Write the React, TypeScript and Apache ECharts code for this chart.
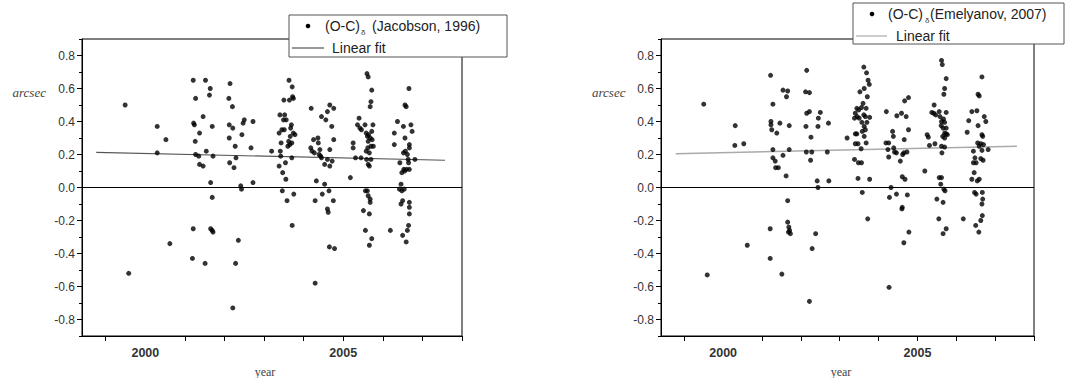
import React, { useEffect, useRef } from "react";
import * as echarts from "echarts";

// (O-C)δ vs Jacobson (1996): [year, arcsec]
const jacobsonPoints: [number, number][] = [
  [1999.49, 0.5], [1999.58, -0.52], [2000.3, 0.37], [2000.3, 0.21], [2000.52, 0.29], [2000.62, -0.34],
  [2001.21, 0.65], [2001.52, 0.65], [2001.27, 0.54], [2001.64, 0.6], [2001.62, 0.56], [2001.46, 0.43],
  [2001.22, 0.39], [2001.24, 0.38], [2001.69, 0.37], [2001.37, 0.33], [2001.26, 0.28], [2001.27, 0.2],
  [2001.35, 0.19], [2001.54, 0.22], [2001.71, 0.19], [2001.37, 0.14], [2001.46, 0.13], [2001.65, 0.03],
  [2001.69, -0.06], [2001.21, -0.25], [2001.65, -0.25], [2001.69, -0.26], [2001.71, -0.27], [2001.19, -0.43],
  [2001.51, -0.46],
  [2002.14, 0.63], [2002.11, 0.54], [2002.2, 0.49], [2002.12, 0.38], [2002.21, 0.36], [2002.47, 0.39],
  [2002.5, 0.41], [2002.72, 0.4], [2002.44, 0.32], [2002.12, 0.3], [2002.27, 0.25], [2002.67, 0.24],
  [2002.29, 0.18], [2002.13, 0.15], [2002.24, 0.12], [2002.72, 0.03], [2002.41, 0.01], [2002.43, -0.01],
  [2002.35, -0.32], [2002.28, -0.46], [2002.21, -0.73],
  [2003.19, 0.22], [2003.63, 0.65], [2003.71, 0.61], [2003.5, 0.53], [2003.64, 0.53], [2003.72, 0.55],
  [2003.74, 0.54], [2003.4, 0.44], [2003.52, 0.44], [2003.49, 0.41], [2003.56, 0.41], [2003.69, 0.38],
  [2003.67, 0.36], [2003.38, 0.33], [2003.45, 0.35], [2003.51, 0.35], [2003.74, 0.33], [2003.78, 0.32],
  [2003.66, 0.31], [2003.43, 0.27], [2003.62, 0.28], [2003.65, 0.26], [2003.6, 0.25], [2003.7, 0.27],
  [2003.41, 0.22], [2003.42, 0.19], [2003.7, 0.18], [2003.38, 0.13], [2003.54, 0.15], [2003.47, 0.09],
  [2003.55, 0.05], [2003.46, -0.02], [2003.58, -0.08], [2003.75, -0.04], [2003.71, -0.23],
  [2004.19, 0.48], [2004.66, 0.5], [2004.76, 0.48], [2004.6, 0.46], [2004.56, 0.41], [2004.45, 0.43],
  [2004.71, 0.37], [2004.25, 0.29], [2004.36, 0.3], [2004.76, 0.29], [2004.37, 0.27], [2004.18, 0.24],
  [2004.41, 0.23], [2004.66, 0.23], [2004.21, 0.22], [2004.27, 0.21], [2004.39, 0.2], [2004.45, 0.18],
  [2004.43, 0.19], [2004.6, 0.17], [2004.72, 0.16], [2004.53, 0.14], [2004.66, 0.13], [2004.32, 0.04],
  [2004.53, 0.02], [2004.64, -0.02], [2004.47, -0.04], [2004.29, -0.08], [2004.75, -0.08], [2004.6, -0.13],
  [2004.62, -0.15], [2004.65, -0.36], [2004.78, -0.37], [2004.29, -0.58],
  [2005.18, 0.06], [2005.25, 0.27], [2005.25, 0.24], [2005.31, 0.18], [2005.45, 0.18], [2005.4, 0.42],
  [2005.36, 0.38], [2005.42, 0.36], [2005.46, 0.35], [2005.55, 0.38], [2005.6, 0.69], [2005.63, 0.67],
  [2005.72, 0.59], [2005.7, 0.52], [2005.68, 0.49], [2005.75, 0.38], [2005.58, 0.33], [2005.64, 0.32],
  [2005.72, 0.34], [2005.61, 0.31], [2005.68, 0.3], [2005.73, 0.29], [2005.63, 0.28], [2005.7, 0.25],
  [2005.76, 0.25], [2005.62, 0.24], [2005.58, 0.22], [2005.66, 0.21], [2005.59, 0.17], [2005.7, 0.17],
  [2005.63, 0.14], [2005.66, 0.13], [2005.56, -0.02], [2005.61, -0.02], [2005.63, -0.05], [2005.68, -0.07],
  [2005.68, -0.09], [2005.51, -0.14], [2005.66, -0.16], [2005.56, -0.26], [2005.72, -0.31], [2005.66, -0.35],
  [2006.19, -0.26], [2006.29, 0.33], [2006.29, 0.26], [2006.37, 0.4], [2006.43, 0.15], [2006.46, 0.02],
  [2006.42, -0.01], [2006.48, -0.02], [2006.54, -0.01], [2006.46, -0.1], [2006.5, -0.08], [2006.52, 0.37],
  [2006.56, 0.5], [2006.59, 0.49], [2006.56, 0.3], [2006.66, 0.6], [2006.71, 0.38], [2006.74, 0.34],
  [2006.52, 0.21], [2006.57, 0.22], [2006.62, 0.2], [2006.67, 0.26], [2006.67, 0.24], [2006.64, 0.17],
  [2006.65, 0.15], [2006.53, 0.11], [2006.6, 0.11], [2006.67, 0.11], [2006.48, 0.09], [2006.55, 0.1],
  [2006.81, 0.17], [2006.67, -0.09], [2006.67, -0.12], [2006.67, -0.16], [2006.65, -0.23], [2006.62, -0.26],
  [2006.5, -0.29], [2006.59, -0.33],
];

// (O-C)δ vs Emelyanov (2007): [year, arcsec]
const emelyanovPoints: [number, number][] = [
  [1999.5, 0.505], [1999.59, -0.53], [2000.31, 0.375], [2000.3, 0.255], [2000.53, 0.265], [2000.62, -0.35],
  [2001.22, 0.68], [2001.28, 0.505], [2001.23, 0.4], [2001.23, 0.38], [2001.25, 0.35], [2001.38, 0.33],
  [2001.46, 0.39], [2001.54, 0.59], [2001.66, 0.585], [2001.63, 0.55], [2001.7, 0.375], [2001.28, 0.23],
  [2001.7, 0.23], [2001.28, 0.18], [2001.34, 0.16], [2001.54, 0.195], [2001.35, 0.12], [2001.42, 0.12],
  [2001.62, 0.07], [2001.66, -0.08], [2001.21, -0.25], [2001.66, -0.21], [2001.69, -0.24], [2001.71, -0.26],
  [2001.68, -0.27], [2001.73, -0.28], [2001.21, -0.43], [2001.51, -0.525],
  [2002.15, 0.71], [2002.12, 0.58], [2002.22, 0.575], [2002.15, 0.45], [2002.22, 0.46], [2002.13, 0.37],
  [2002.26, 0.305], [2002.14, 0.215], [2002.28, 0.215], [2002.25, 0.165], [2002.5, 0.455], [2002.45, 0.42],
  [2002.44, 0.37], [2002.71, 0.39], [2002.68, 0.215], [2002.42, 0.04], [2002.44, 0.0], [2002.72, 0.04],
  [2002.38, -0.28], [2002.29, -0.37], [2002.22, -0.69],
  [2003.19, 0.3], [2003.38, 0.17], [2003.47, 0.055], [2003.48, 0.15], [2003.56, 0.15], [2003.58, -0.03],
  [2003.72, -0.19], [2003.77, 0.05], [2003.62, 0.73], [2003.69, 0.695], [2003.73, 0.65], [2003.76, 0.625],
  [2003.63, 0.6], [2003.52, 0.58], [2003.71, 0.55], [2003.6, 0.51], [2003.56, 0.485], [2003.44, 0.48],
  [2003.49, 0.47], [2003.68, 0.48], [2003.4, 0.45], [2003.45, 0.43], [2003.62, 0.44], [2003.38, 0.42],
  [2003.5, 0.42], [2003.66, 0.43], [2003.77, 0.425], [2003.57, 0.395], [2003.7, 0.395], [2003.63, 0.37],
  [2003.66, 0.35], [2003.58, 0.34], [2003.4, 0.325], [2003.44, 0.325], [2003.63, 0.31], [2003.68, 0.27],
  [2003.4, 0.265], [2003.47, 0.265], [2003.55, 0.235],
  [2004.2, 0.46], [2004.19, 0.27], [2004.26, 0.27], [2004.24, 0.23], [2004.26, 0.185], [2004.32, 0.0],
  [2004.28, -0.06], [2004.27, -0.605], [2004.36, 0.34], [2004.38, 0.31], [2004.39, 0.24], [2004.41, 0.215],
  [2004.46, 0.21], [2004.47, 0.435], [2004.59, 0.45], [2004.71, 0.43], [2004.67, 0.525], [2004.77, 0.545],
  [2004.77, 0.35], [2004.66, 0.29], [2004.73, 0.215], [2004.65, 0.21], [2004.62, 0.2], [2004.56, 0.16],
  [2004.61, 0.065], [2004.68, 0.05], [2004.46, -0.04], [2004.61, -0.12], [2004.6, -0.13], [2004.74, -0.045],
  [2004.78, -0.27], [2004.65, -0.335],
  [2005.19, 0.1], [2005.25, 0.32], [2005.28, 0.305], [2005.31, 0.255], [2005.45, 0.265], [2005.43, 0.5],
  [2005.42, 0.45], [2005.47, 0.44], [2005.37, 0.455], [2005.56, 0.46], [2005.62, 0.77], [2005.64, 0.745],
  [2005.74, 0.66], [2005.7, 0.6], [2005.68, 0.565], [2005.74, 0.455], [2005.58, 0.43], [2005.67, 0.415],
  [2005.62, 0.4], [2005.7, 0.395], [2005.61, 0.375], [2005.66, 0.36], [2005.74, 0.36], [2005.7, 0.33],
  [2005.74, 0.325], [2005.77, 0.32], [2005.65, 0.31], [2005.7, 0.3], [2005.62, 0.25], [2005.7, 0.245],
  [2005.63, 0.21], [2005.56, 0.06], [2005.62, 0.06], [2005.6, 0.02], [2005.68, -0.01], [2005.71, -0.02],
  [2005.5, -0.07], [2005.66, -0.09], [2005.55, -0.19], [2005.74, -0.25], [2005.66, -0.28],
  [2006.18, -0.19], [2006.28, 0.335], [2006.32, 0.405], [2006.4, 0.46], [2006.44, 0.22], [2006.44, 0.15],
  [2006.46, 0.09], [2006.4, 0.05], [2006.47, -0.03], [2006.51, -0.04], [2006.48, 0.18], [2006.51, 0.15],
  [2006.53, 0.465], [2006.56, 0.565], [2006.59, 0.555], [2006.56, 0.375], [2006.55, 0.27], [2006.59, 0.25],
  [2006.54, 0.04], [2006.59, 0.05], [2006.66, 0.67], [2006.66, 0.32], [2006.68, 0.31], [2006.63, 0.265],
  [2006.7, 0.26], [2006.66, 0.225], [2006.72, 0.43], [2006.76, 0.4], [2006.63, 0.175], [2006.69, 0.165],
  [2006.82, 0.23], [2006.67, -0.03], [2006.68, -0.07], [2006.66, -0.1], [2006.67, -0.17], [2006.63, -0.2],
  [2006.5, -0.23], [2006.58, -0.27],
];

const jacobsonFit: [number, number][] = [[1998.76, 0.213], [2007.57, 0.165]];
const emelyanovFit: [number, number][] = [[1998.78, 0.205], [2007.56, 0.25]];

const yearLabels = [2000, 2005];
const yearTicks = [1999, 2001, 2002, 2003, 2004, 2005, 2006, 2007, 2008];
const yMajor = [-0.8, -0.6, -0.4, -0.2, 0, 0.2, 0.4, 0.6, 0.8];

const SANS = '"Liberation Sans", Arial, sans-serif';
const SERIF = '"Liberation Serif", "Times New Roman", serif';

function xAxisFor(gridIndex: number) {
  return {
    type: "value",
    gridIndex,
    min: 1998.4,
    max: 2008,
    axisLine: { show: true, onZero: false, lineStyle: { color: "#000", width: 1 } },
    axisTick: { show: true, inside: false, length: 5, customValues: yearTicks, lineStyle: { color: "#000" } },
    axisLabel: {
      show: true,
      customValues: yearLabels,
      formatter: (v: number) => String(Math.round(v)),
      color: "#333",
      fontFamily: SANS,
      fontSize: 12.5,
      fontWeight: "bold",
      margin: 10,
    },
    splitLine: { show: false },
  };
}

function yAxesFor(gridIndex: number) {
  return [
    {
      type: "value",
      gridIndex,
      position: "left",
      min: -0.9,
      max: 0.9,
      axisLine: { show: true, onZero: false, lineStyle: { color: "#000", width: 1 } },
      axisTick: { show: true, length: 5, customValues: yMajor, lineStyle: { color: "#000" } },
      axisLabel: {
        show: true,
        customValues: yMajor,
        formatter: (v: number) => v.toFixed(1),
        color: "#333",
        fontFamily: SANS,
        fontSize: 12,
        margin: 7,
      },
      splitLine: { show: false },
    },
    {
      type: "value",
      gridIndex,
      position: "left",
      offset: 0,
      min: -0.9,
      max: 0.9,
      interval: 0.1,
      axisLine: { show: false, onZero: false },
      axisTick: { show: true, length: 3, lineStyle: { color: "#000" } },
      axisLabel: { show: false },
      splitLine: { show: false },
    },
  ];
}

function seriesFor(idx: number, points: [number, number][], fit: [number, number][], fitColor: string, fitWidth: number) {
  return [
    {
      type: "scatter",
      xAxisIndex: idx,
      yAxisIndex: idx * 2,
      data: points,
      symbol: "circle",
      symbolSize: 5,
      itemStyle: { color: "#000" },
      silent: true,
      markLine: {
        silent: true,
        symbol: ["none", "none"],
        label: { show: false },
        lineStyle: { color: "#000", width: 1, type: "solid" },
        data: [{ yAxis: 0 }],
      },
      z: 3,
    },
    {
      type: "line",
      xAxisIndex: idx,
      yAxisIndex: idx * 2,
      data: fit,
      showSymbol: false,
      symbol: "none",
      lineStyle: { color: fitColor, width: fitWidth },
      silent: true,
      z: 2,
    },
  ];
}

function legendGroup(
  x: number, y: number, w: number, h: number,
  dotX: number, row1Y: number, row2Y: number,
  ocX: number, deltaX: number, refX: number, refText: string,
  lineX1: number, lineX2: number, lineColor: string, fitTextX: number
) {
  return {
    type: "group",
    z: 100,
    children: [
      { type: "rect", shape: { x, y, width: w, height: h }, style: { fill: "#fff", stroke: "#555", lineWidth: 1 }, z: 100 },
      { type: "circle", shape: { cx: dotX, cy: row1Y, r: 2.3 }, style: { fill: "#000" }, z: 101 },
      { type: "text", x: ocX, y: row1Y, style: { text: "(O-C)", font: `14px ${SANS}`, fill: "#222", verticalAlign: "middle" }, z: 101 },
      { type: "text", x: deltaX, y: row1Y + 6, style: { text: "δ", font: `8px ${SANS}`, fill: "#333", verticalAlign: "middle" }, z: 101 },
      { type: "text", x: refX, y: row1Y, style: { text: refText, font: `14px ${SANS}`, fill: "#222", verticalAlign: "middle" }, z: 101 },
      { type: "line", shape: { x1: lineX1, y1: row2Y, x2: lineX2, y2: row2Y }, style: { stroke: lineColor, lineWidth: 1.2 }, z: 101 },
      { type: "text", x: fitTextX, y: row2Y, style: { text: "Linear fit", font: `14px ${SANS}`, fill: "#222", verticalAlign: "middle" }, z: 101 },
    ],
  };
}

export default function App() {
  const ref = useRef<HTMLDivElement>(null);
  useEffect(() => {
    if (!ref.current) return;
    const chart = echarts.init(ref.current, undefined, { renderer: "svg" });
    const option: any = {
      animation: false,
      backgroundColor: "#fff",
      grid: [
        { left: 82, top: 39, width: 380, height: 297, show: true, borderColor: "#000", borderWidth: 1, backgroundColor: "transparent" },
        { left: 661, top: 39, width: 373, height: 297, show: true, borderColor: "#000", borderWidth: 1, backgroundColor: "transparent" },
      ],
      xAxis: [xAxisFor(0), xAxisFor(1)],
      yAxis: [...yAxesFor(0), ...yAxesFor(1)],
      series: [
        ...seriesFor(0, jacobsonPoints, jacobsonFit, "#555", 1.2),
        ...seriesFor(1, emelyanovPoints, emelyanovFit, "#aaa", 1.6),
      ],
      graphic: [
        { type: "text", x: 12.5, y: 92, style: { text: "arcsec", font: `italic 13px ${SERIF}`, fill: "#444", verticalAlign: "middle" } },
        { type: "text", x: 592, y: 92, style: { text: "arcsec", font: `italic 13px ${SERIF}`, fill: "#444", verticalAlign: "middle" } },
        { type: "text", x: 265, y: 372, style: { text: "year", font: `12px ${SERIF}`, fill: "#444", align: "center", verticalAlign: "middle" } },
        { type: "text", x: 841, y: 372, style: { text: "year", font: `12px ${SERIF}`, fill: "#444", align: "center", verticalAlign: "middle" } },
        legendGroup(289, 15, 218, 42, 308, 26, 48, 325, 361, 372, "(Jacobson, 1996)", 292, 324, "#555", 332),
        legendGroup(853, 3, 211, 41, 872, 14, 36, 888, 925, 930, "(Emelyanov, 2007)", 856, 887, "#aaa", 896),
      ],
    };
    chart.setOption(option);
    return () => chart.dispose();
  }, []);
  return (
    <div
      ref={ref}
      style={{ position: "fixed", left: 0, top: 0, width: 1087, height: 378, background: "#fff" }}
    />
  );
}
